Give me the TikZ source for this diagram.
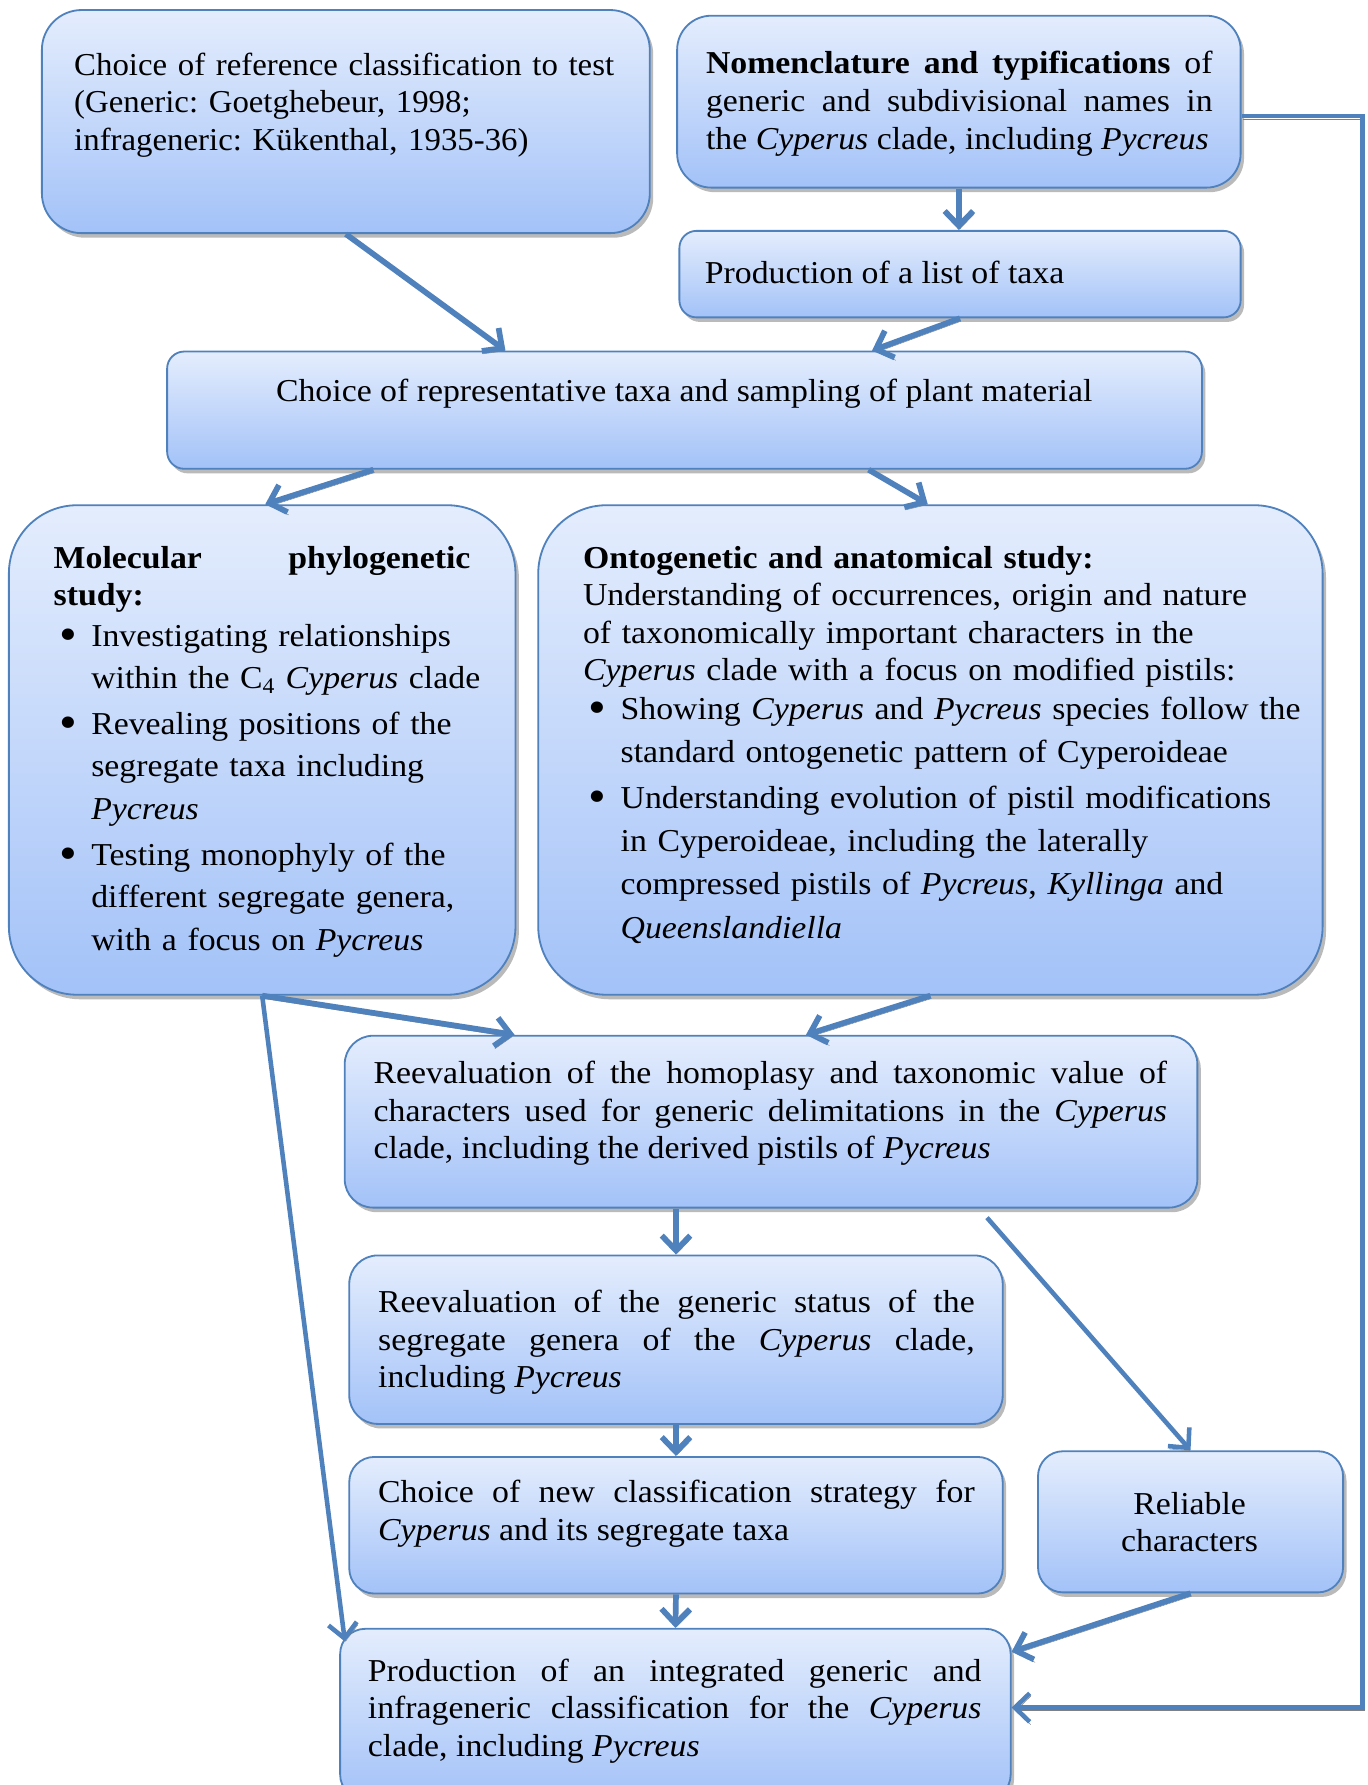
\documentclass[tikz,border=0pt]{standalone}
\usepackage{fontspec}
\setmainfont{Liberation Serif}[FakeStretch=1.06]
\newfontfamily\narrowserif{Liberation Serif}[FakeStretch=1.03]
\usetikzlibrary{shadows,arrows.meta,calc}
\definecolor{bord}{HTML}{4F81BD}
\definecolor{ctop}{HTML}{E4EDFD}
\definecolor{cbot}{HTML}{A3C2F8}
\frenchspacing
\newcommand\bulx[2]{\par\vspace{#1}\hangindent=33pt\hangafter=1\noindent\hbox to 33pt{\hskip 5pt\raisebox{-3.5pt}{\scalebox{1.5}{\textbullet}}\hfil}#2\par}
\tikzset{
 box/.style={draw=bord, line width=1.6pt, top color=ctop, bottom color=cbot, anchor=north west, inner sep=0pt,
   drop shadow={shadow xshift=3pt, shadow yshift=-4pt, fill=black!60, opacity=0.45}},
 txt/.style={anchor=base west, inner sep=0pt, font=\fontsize{28}{33}\selectfont},
 conn/.style={draw=bord, line width=5pt, -{Straight Barb[length=13pt,width=25pt]},
   preaction={draw=black!50, transform canvas={shift={(1pt,-2.5pt)}}}},
 thinconn/.style={conn, line width=4pt}
}
\begin{document}
\begin{tikzpicture}[x=1pt,y=-1pt]
\fill[white] (0,0) rectangle (1201,1568);
\useasboundingbox (0,0) rectangle (1201,1568);
% boxes
\node[box, minimum width=534pt, minimum height=196pt, rounded corners=35pt] (A) at (36,8) {};
\node[box, minimum width=495pt, minimum height=151pt, rounded corners=30pt] (B) at (594,13) {};
\node[box, minimum width=493pt, minimum height=76pt, rounded corners=15pt] (C) at (596,202) {};
\node[box, minimum width=909pt, minimum height=103pt, rounded corners=15pt] (D) at (146,308) {};
\node[box, minimum width=445pt, minimum height=430pt, rounded corners=60pt] (E) at (7,443) {};
\node[box, minimum width=689pt, minimum height=430pt, rounded corners=60pt] (F) at (472,443) {};
\node[box, minimum width=749pt, minimum height=151pt, rounded corners=25pt] (G) at (302,909) {};
\node[box, minimum width=574pt, minimum height=148pt, rounded corners=25pt] (H) at (306,1102) {};
\node[box, minimum width=574pt, minimum height=120pt, rounded corners=22pt] (I) at (306,1279) {};
\node[box, minimum width=268pt, minimum height=124pt, rounded corners=22pt] (J) at (911,1274) {};
\node[box, minimum width=589pt, minimum height=150pt, rounded corners=22pt] (K) at (298,1430) {};
% texts
\node[txt, text width=520pt, align=left, font=\fontsize{28}{33}\narrowserif] (At) at (65,66)
 {Choice of reference classification to test\\(Generic: Goetghebeur, 1998;\\infrageneric: Kükenthal, 1935-36)};
\node[txt, text width=445pt, align=justify] (Bt) at (620,65)
 {\textbf{Nomenclature and typifications} of\linebreak generic and subdivisional names in\linebreak the \textit{Cyperus} clade, including \textit{Pycreus}};
\node[txt] (Ct) at (619,249) {Production of a list of taxa};
\node[txt, anchor=base] (Dt) at (601,353) {Choice of representative taxa and sampling of plant material};
\node[txt, text width=395pt, align=left] (Et) at (47,499)
 {\hbox to 366pt{\textbf{Molecular}\hfill\textbf{phylogenetic}}\\\textbf{study:}\par
  \fontsize{28}{37.5}\selectfont
  \bulx{-2pt}{Investigating relationships\newline within the C\textsubscript{4} \textit{Cyperus} clade}
  \bulx{2.5pt}{Revealing positions of the\newline segregate taxa including\newline \textit{Pycreus}}
  \bulx{2.5pt}{Testing monophyly of the\newline different segregate genera,\newline with a focus on \textit{Pycreus}}};
\node[txt, text width=645pt, align=left] (Ft) at (512,499)
 {\textbf{Ontogenetic and anatomical study:}\\Understanding of occurrences, origin and nature\\of taxonomically important characters in the\\\textit{Cyperus} clade with a focus on modified pistils:\par
  \fontsize{28}{38}\selectfont
  \bulx{-4pt}{Showing \textit{Cyperus} and \textit{Pycreus} species follow the\newline standard ontogenetic pattern of Cyperoideae}
  \bulx{2pt}{Understanding evolution of pistil modifications\newline in Cyperoideae, including the laterally\newline compressed pistils of \textit{Pycreus}, \textit{Kyllinga} and\newline \textit{Queenslandiella}}};
\node[txt, text width=697pt, align=justify] (Gt) at (328,952)
 {Reevaluation of the homoplasy and taxonomic value of\linebreak characters used for generic delimitations in the \textit{Cyperus}\linebreak clade, including the derived pistils of \textit{Pycreus}};
\node[txt, text width=524pt, align=justify] (Ht) at (332,1153)
 {Reevaluation of the generic status of the\linebreak segregate genera of the \textit{Cyperus} clade,\linebreak including \textit{Pycreus}};
\node[txt, text width=524pt, align=justify] (It) at (332,1320)
 {Choice of new classification strategy for\linebreak \textit{Cyperus} and its segregate taxa};
\node[txt, text width=250pt, align=center, anchor=base] (Jt) at (1045,1330)
 {Reliable\\characters};
\node[txt, text width=539pt, align=justify] (Kt) at (323,1477)
 {Production of an integrated generic and\linebreak infrageneric classification for the \textit{Cyperus}\linebreak clade, including \textit{Pycreus}};
% connectors
\coordinate (r1) at (1197,102);
\coordinate (r2) at (1197,1500);
\draw[conn] (A.south) -- ($(D.north west)+(298,0)$);
\draw[conn] (B.south) -- (B.south |- C.north);
\draw[conn] (C.south) -- ($(D.north west)+(620,0)$);
\draw[conn] ($(D.south west)+(182,0)$) -- ($(E.north west)+(226,0)$);
\draw[conn] ($(D.south west)+(617,0)$) -- ($(F.north west)+(343,0)$);
\draw[conn] (E.south) -- ($(G.north west)+(150,0)$);
\draw[conn] (F.south) -- ($(G.north west)+(406,0)$);
\draw[thinconn] (E.south) -- ($(K.north west)+(5,12)$);
\draw[conn] (H.north |- G.south) -- (H.north);
\draw[thinconn] ($(G.south west)+(565,8)$) -- (J.north);
\draw[conn] (H.south) -- (I.north);
\draw[conn] (I.south) -- (K.north);
\draw[conn] (J.south) -- ($(K.north east)+(0,21)$);
\draw[thinconn] ($(B.north east)+(0,89)$) -- (r1) -- (r2) -- (r2 -| K.east);
\end{tikzpicture}
\end{document}
